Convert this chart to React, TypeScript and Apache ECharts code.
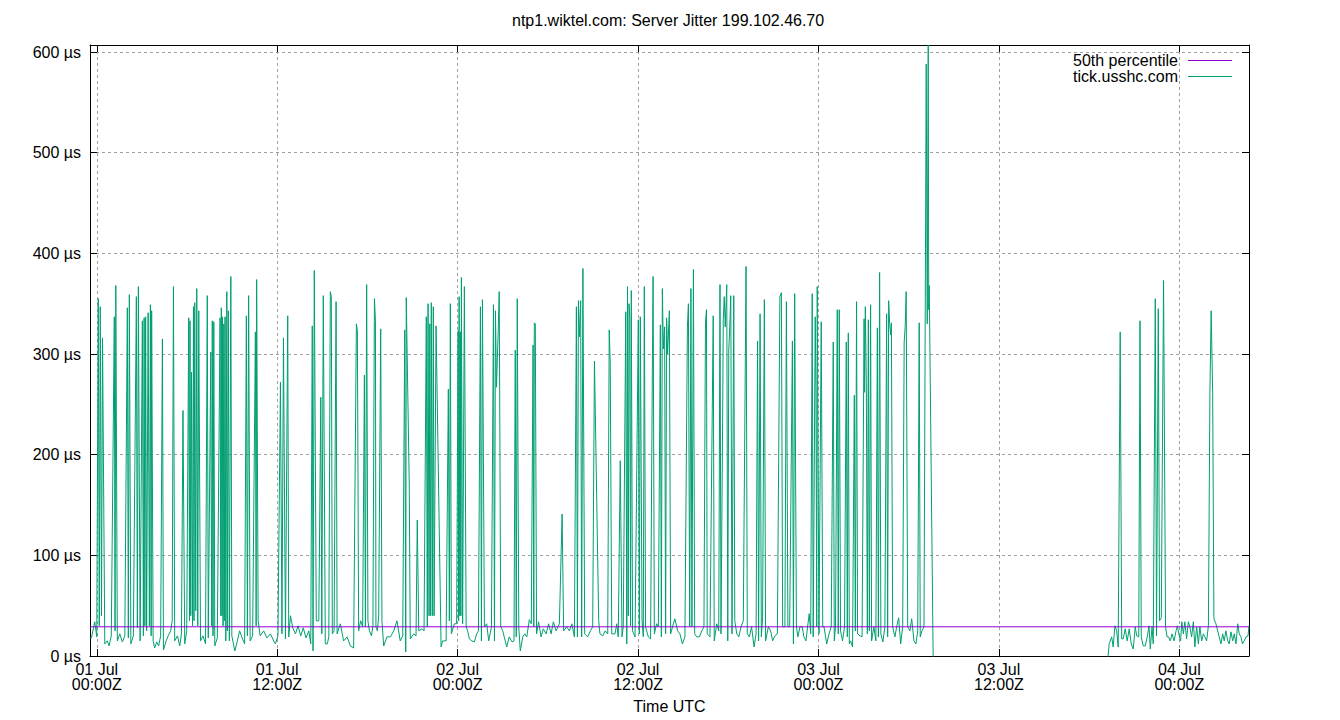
import React, { useEffect, useRef } from "react";
import * as echarts from "echarts";

// Time is in minutes after 01 Jul 00:00Z; values are jitter in µs.
const TITLE = "ntp1.wiktel.com: Server Jitter 199.102.46.70";
const X_MIN = -27;
const X_MAX = 4598;
const Y_MAX = 607;
const MEDIAN_US = 29;

const xTickMinutes = [0, 720, 1440, 2160, 2880, 3600, 4320];
const xTickLabels = [
  "01 Jul\n00:00Z",
  "01 Jul\n12:00Z",
  "02 Jul\n00:00Z",
  "02 Jul\n12:00Z",
  "03 Jul\n00:00Z",
  "03 Jul\n12:00Z",
  "04 Jul\n00:00Z",
];
const yTicks = [0, 100, 200, 300, 400, 500, 600];

const jitterA = [
  [-28, 18], [-21, 18], [-8, 34], [0, 19], [6, 355], [10, 30], [14, 347], [19, 40], [23, 316], [32, 12], [42, 15], [49, 10], [58, 20],
  [70, 337], [73, 25], [76, 368], [82, 15], [92, 22], [102, 14], [112, 20], [122, 346], [126, 18], [130, 359], [136, 12], [146, 20],
  [158, 357], [162, 28], [166, 367], [173, 15], [182, 333], [186, 20], [189, 336], [192, 30], [195, 337], [199, 25], [205, 341], [207, 224],
  [210, 30], [214, 349], [217, 20], [219, 343], [225, 15], [231, 8], [239, 14], [247, 10], [255, 20], [262, 315], [266, 6], [277, 15],
  [285, 20], [295, 25], [301, 35], [306, 367], [311, 15], [322, 20], [331, 10], [338, 22], [344, 244], [351, 12], [359, 25], [367, 336],
  [370, 35], [372, 333], [375, 40], [378, 282], [382, 30], [386, 347], [388, 35], [391, 351], [395, 45], [399, 365], [403, 30], [407, 343],
  [414, 15], [424, 20], [434, 12], [441, 358], [445, 18], [455, 302], [456, 189], [459, 30], [461, 333], [464, 20], [467, 332], [471, 10],
  [481, 18], [492, 336], [495, 40], [497, 346], [500, 40], [501, 337], [504, 30], [507, 330], [509, 35], [512, 337], [515, 15], [519, 362],
  [521, 25], [525, 343], [529, 15], [535, 377], [539, 20], [551, 5], [561, 15], [570, 25], [580, 18], [590, 12], [597, 338], [601, 20],
  [606, 358], [612, 15], [622, 20], [633, 322], [636, 30], [638, 374], [644, 35], [652, 20],
];

const jitterB = [
  [666, 25], [679, 18], [693, 22], [706, 15], [713, 12], [723, 20], [733, 272], [739, 22], [745, 316], [753, 17], [762, 338], [766, 19],
  [773, 40], [782, 28], [793, 22], [803, 30], [814, 20], [824, 28], [835, 18], [846, 25], [854, 12], [860, 328], [863, 5], [868, 383],
  [876, 35], [886, 35], [894, 257], [898, 22], [904, 358], [912, 12], [920, 12], [926, 19], [932, 362], [936, 357], [940, 22], [947, 25],
  [955, 352], [959, 22], [972, 32], [985, 15], [999, 19], [1012, 10], [1025, 8], [1036, 330], [1040, 323], [1045, 25], [1053, 35],
  [1061, 29], [1068, 279], [1072, 29], [1077, 369], [1082, 35], [1088, 25], [1096, 20], [1102, 30], [1108, 355], [1112, 333], [1114, 29],
  [1120, 25], [1125, 40], [1133, 325], [1138, 35], [1145, 10], [1158, 19], [1172, 19], [1185, 25], [1198, 35], [1211, 15], [1221, 20],
  [1229, 324], [1233, 4], [1235, 356], [1247, 170], [1251, 17], [1265, 22], [1274, 20], [1279, 135], [1285, 25], [1298, 27], [1306, 25],
  [1315, 337], [1319, 29], [1322, 350], [1326, 40], [1329, 330], [1332, 40], [1335, 351], [1339, 40], [1343, 347], [1346, 40], [1354, 328],
];

const jitterC = [
  [1374, 9], [1380, 15], [1394, 15], [1403, 265], [1407, 35], [1411, 350], [1415, 22], [1427, 32], [1436, 32], [1442, 323], [1444, 35],
  [1446, 357], [1449, 40], [1451, 322], [1453, 40], [1455, 376], [1460, 32], [1467, 367], [1474, 29], [1480, 25], [1487, 17], [1497, 15],
  [1507, 14], [1516, 22], [1523, 25], [1531, 347], [1535, 15], [1539, 354], [1547, 29], [1556, 32], [1564, 15], [1575, 29], [1583, 349],
  [1587, 15], [1591, 343], [1595, 267], [1602, 323], [1606, 362], [1612, 29], [1620, 25], [1626, 19], [1636, 9], [1646, 19], [1657, 14],
  [1665, 15], [1670, 304], [1674, 19], [1678, 355], [1684, 29], [1690, 5], [1700, 19], [1708, 22], [1716, 19], [1726, 36], [1734, 32],
  [1741, 309], [1744, 29], [1746, 331], [1750, 330], [1755, 22], [1763, 34], [1773, 19], [1782, 27], [1793, 22], [1803, 32], [1813, 22],
  [1822, 34], [1833, 25], [1846, 32], [1857, 141], [1863, 25], [1875, 29], [1886, 25], [1896, 32], [1906, 19], [1914, 347], [1918, 19],
  [1922, 353], [1926, 317], [1931, 353], [1935, 19], [1940, 385], [1947, 22], [1959, 19], [1970, 25], [1979, 29], [1986, 293], [2003, 35],
  [2008, 22], [2019, 20], [2029, 25], [2039, 22], [2045, 324], [2049, 290],
];

const jitterD = [
  [2055, 22], [2068, 22], [2075, 32], [2081, 19], [2089, 194], [2096, 19], [2101, 29], [2111, 342], [2115, 12], [2118, 367], [2121, 40],
  [2124, 350], [2127, 336], [2130, 30], [2133, 363], [2138, 25], [2148, 19], [2161, 334], [2165, 22], [2169, 337], [2176, 35], [2181, 19],
  [2185, 367], [2190, 29], [2201, 19], [2210, 17], [2217, 282], [2220, 377], [2225, 22], [2234, 32], [2241, 29], [2249, 329], [2253, 19],
  [2257, 365], [2261, 305], [2266, 327], [2270, 22], [2274, 336], [2278, 300], [2285, 343], [2290, 22], [2301, 32], [2307, 37], [2318, 25],
  [2327, 22], [2337, 12], [2347, 19], [2357, 327], [2361, 350], [2366, 29], [2371, 365], [2375, 29], [2381, 384], [2386, 22], [2394, 19],
  [2405, 19], [2414, 25], [2423, 29], [2429, 331], [2433, 344], [2436, 22], [2447, 19], [2460, 338], [2464, 15], [2474, 32], [2482, 25],
  [2487, 369], [2491, 22], [2498, 251], [2500, 334], [2504, 357], [2508, 327], [2514, 369], [2518, 15], [2522, 304], [2526, 327],
  [2530, 358], [2535, 22], [2542, 358], [2546, 35], [2554, 22], [2562, 19], [2571, 29], [2580, 35], [2591, 387], [2596, 22], [2604, 19],
  [2613, 29], [2623, 9], [2631, 22], [2637, 313], [2641, 15], [2647, 340], [2652, 19], [2657, 38], [2664, 354], [2669, 15], [2680, 29],
  [2689, 25], [2697, 15], [2706, 20], [2716, 22], [2726, 357], [2732, 361], [2737, 29], [2746, 29],
];

const jitterE = [
  [2752, 352], [2758, 29], [2765, 29], [2776, 313], [2780, 12], [2785, 360], [2792, 29], [2798, 19], [2806, 29], [2815, 29], [2822, 19],
  [2830, 15], [2838, 32], [2843, 42], [2849, 22], [2855, 360], [2859, 19], [2867, 337], [2870, 259], [2873, 29], [2875, 367], [2882, 22],
  [2891, 332], [2897, 29], [2902, 29], [2913, 12], [2922, 22], [2931, 29], [2939, 312], [2943, 15], [2948, 29], [2955, 344], [2959, 22],
  [2963, 344], [2968, 25], [2976, 15], [2984, 29], [2991, 312], [2995, 19], [2999, 321], [3003, 12], [3008, 15], [3016, 9], [3023, 259],
  [3027, 25], [3032, 352], [3036, 22], [3046, 20], [3054, 19], [3062, 335], [3064, 262], [3067, 347], [3071, 271], [3075, 22], [3079, 334],
  [3083, 25], [3088, 349], [3092, 15], [3101, 29], [3109, 15], [3115, 326], [3119, 19], [3124, 381], [3129, 22], [3137, 14], [3145, 29],
  [3152, 340], [3156, 19], [3160, 353], [3164, 330], [3168, 319], [3171, 331], [3176, 29], [3185, 19], [3192, 29], [3200, 38], [3208, 12],
  [3216, 29], [3222, 312], [3226, 327], [3230, 362], [3236, 29], [3245, 25], [3252, 37], [3261, 15], [3269, 12], [3276, 25], [3282, 331],
  [3286, 19], [3293, 25], [3301, 29], [3310, 588], [3314, 330], [3318, 607], [3320, 344], [3322, 368], [3338, -10],
];

const jitterF = [
  [4032, -10], [4040, 12], [4050, 19], [4056, 9], [4063, 30], [4070, 25], [4076, 9], [4084, 322], [4090, 17], [4096, 17], [4104, 27],
  [4112, 15], [4120, 27], [4128, 12], [4136, 7], [4144, 29], [4150, 20], [4158, 19], [4163, 333], [4168, 19], [4176, 10], [4184, 10],
  [4192, 19], [4199, 30], [4204, 7], [4211, 29], [4216, 12], [4224, 355], [4229, 20], [4236, 345], [4241, 35], [4248, 38], [4257, 373],
  [4265, 29], [4271, 19], [4277, 19], [4284, 15], [4291, 22], [4299, 15], [4307, 25], [4312, 30], [4318, 22], [4325, 15], [4330, 34],
  [4336, 22], [4342, 34], [4349, 17], [4356, 34], [4362, 29], [4369, 19], [4376, 34], [4382, 9], [4389, 29], [4396, 12], [4402, 29],
  [4409, 15], [4416, 22], [4422, 19], [4429, 15], [4436, 30], [4442, 261], [4447, 343], [4453, 261], [4458, 37], [4466, 32], [4473, 25],
  [4479, 19], [4486, 12], [4493, 22], [4499, 15], [4506, 25], [4513, 15], [4519, 12], [4526, 24], [4533, 15], [4539, 22], [4546, 12],
  [4553, 32], [4559, 22], [4566, 19], [4572, 12], [4579, 15], [4586, 19], [4594, 20], [4598, 30],
];

const FONT = "'Liberation Sans', Arial, Helvetica, sans-serif";
const GREEN = "#009e73";
const PURPLE = "#9400d3";
const GRID_COLOR = "#a0a0a0";

export default function App() {
  const ref = useRef<HTMLDivElement>(null);

  useEffect(() => {
    if (!ref.current) return;
    const chart = echarts.init(ref.current, null, { renderer: "svg" });
    const jitter = [...jitterA, ...jitterB, ...jitterC, ...jitterD, ...jitterE, ...jitterF];

    const tickCommon = {
      show: true,
      inside: true,
      length: 7,
      lineStyle: { color: "#000", width: 1 },
    };

    chart.setOption({
      animation: false,
      backgroundColor: "#fff",
      title: {
        text: TITLE,
        left: 512,
        top: 12,
        padding: 0,
        textStyle: { fontFamily: FONT, fontSize: 16, fontWeight: "normal", color: "#000" },
      },
      legend: {
        data: [
          { name: "50th percentile", icon: "rect", itemStyle: { color: PURPLE } },
          { name: "tick.usshc.com", icon: "rect", itemStyle: { color: GREEN } },
        ],
        orient: "vertical",
        align: "right",
        right: 108,
        top: 52.5,
        padding: 0,
        itemWidth: 44,
        itemHeight: 1,
        itemGap: 0,
        textStyle: { fontFamily: FONT, fontSize: 16, color: "#000", lineHeight: 15, padding: [0, 5, 0, 0] },
      },
      grid: { left: 90, right: 91, top: 45, bottom: 64, containLabel: false },
      xAxis: [
        {
          type: "value",
          position: "bottom",
          min: X_MIN,
          max: X_MAX,
          axisLine: { show: true, onZero: false, lineStyle: { color: "#000", width: 1 } },
          axisTick: { ...tickCommon, customValues: xTickMinutes },
          axisLabel: {
            customValues: xTickMinutes,
            formatter: (v: number) => {
              const i = xTickMinutes.indexOf(Math.round(v));
              return i >= 0 ? xTickLabels[i] : "";
            },
            fontFamily: FONT,
            fontSize: 16,
            lineHeight: 15,
            color: "#000",
            margin: 6,
          },
          splitLine: { show: true, lineStyle: { color: GRID_COLOR, width: 1, type: [3, 3] } },
          name: "Time UTC",
          nameLocation: "middle",
          nameGap: 42,
          nameTextStyle: { fontFamily: FONT, fontSize: 16, color: "#000", lineHeight: 16 },
        },
        {
          type: "value",
          position: "top",
          min: X_MIN,
          max: X_MAX,
          axisLine: { show: true, onZero: false, lineStyle: { color: "#000", width: 1 } },
          axisTick: { ...tickCommon, customValues: xTickMinutes },
          axisLabel: { show: false },
          splitLine: { show: false },
        },
      ],
      yAxis: [
        {
          type: "value",
          position: "left",
          min: 0,
          max: Y_MAX,
          axisLine: { show: true, onZero: false, lineStyle: { color: "#000", width: 1 } },
          axisTick: { ...tickCommon, customValues: yTicks },
          axisLabel: {
            customValues: yTicks,
            formatter: (v: number) => `${v} µs`,
            fontFamily: FONT,
            fontSize: 16,
            color: "#000",
            margin: 9,
          },
          splitLine: { show: true, lineStyle: { color: GRID_COLOR, width: 1, type: [3, 3] } },
        },
        {
          type: "value",
          position: "right",
          min: 0,
          max: Y_MAX,
          axisLine: { show: true, onZero: false, lineStyle: { color: "#000", width: 1 } },
          axisTick: { ...tickCommon, customValues: yTicks },
          axisLabel: { show: false },
          splitLine: { show: false },
        },
      ],
      series: [
        {
          name: "tick.usshc.com",
          type: "line",
          data: jitter,
          symbol: "none",
          showSymbol: false,
          clip: true,
          color: GREEN,
          lineStyle: { color: GREEN, width: 1 },
          z: 2,
        },
        {
          name: "50th percentile",
          type: "line",
          data: [
            [X_MIN, MEDIAN_US],
            [X_MAX, MEDIAN_US],
          ],
          symbol: "none",
          showSymbol: false,
          clip: true,
          color: PURPLE,
          lineStyle: { color: PURPLE, width: 1 },
          z: 3,
        },
      ],
    });

    return () => chart.dispose();
  }, []);

  return (
    <div
      ref={ref}
      style={{ position: "fixed", left: 0, top: 0, width: 1340, height: 720, background: "#fff" }}
    />
  );
}
